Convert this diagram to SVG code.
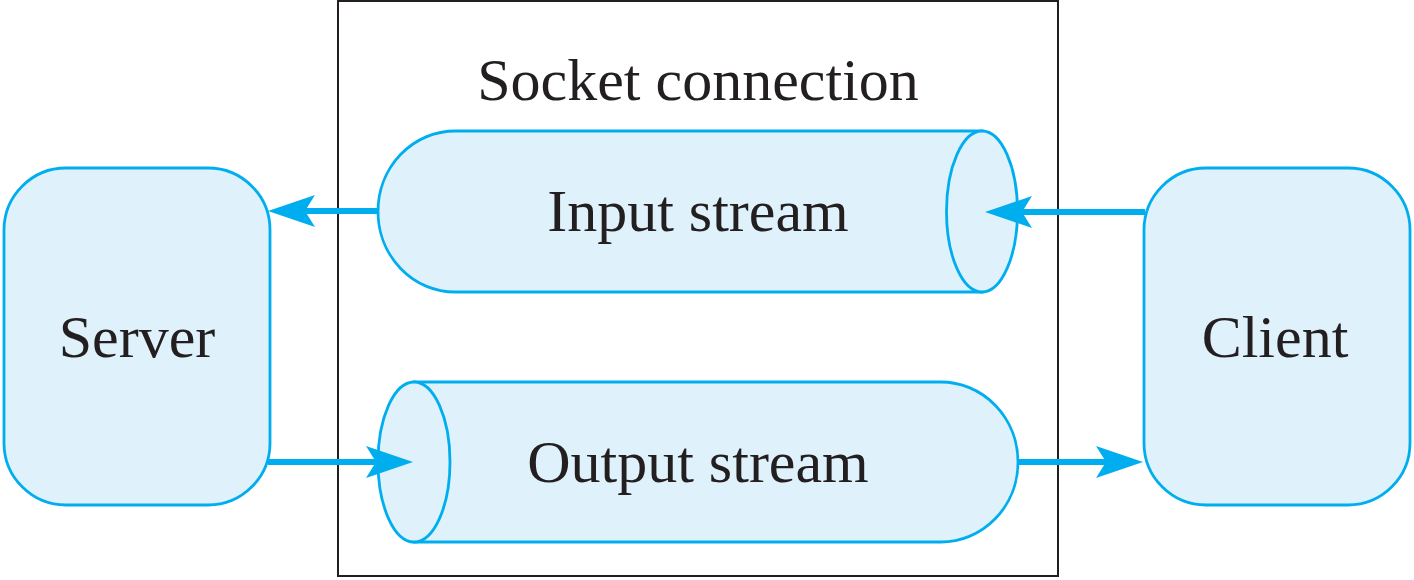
<svg xmlns="http://www.w3.org/2000/svg" width="1414" height="580" viewBox="0 0 1414 580">
<style>
.node{fill:#dff1fa;stroke:#00aeef;stroke-width:2.8}
.lbl{font-family:"Liberation Serif","Times New Roman",serif;font-size:60px;fill:#231f20;text-anchor:middle}
.conn{stroke:#00aeef;stroke-width:6;fill:none}
</style>
<defs>
<marker id="ah" markerUnits="userSpaceOnUse" markerWidth="48" markerHeight="34" viewBox="0 0 48 34" refX="10" refY="17" orient="auto">
<path d="M0,1 L47,17 L0,33 L10,17 Z" fill="#00aeef"/>
</marker>
</defs>
<rect width="1414" height="580" fill="#fff"/>
<g id="socket">
<rect x="338" y="1" width="720" height="575" fill="none" stroke="#231f20" stroke-width="2"/>
<text class="lbl" x="698" y="100">Socket connection</text>
</g>
<g id="server">
<rect class="node" x="4" y="168" width="266" height="337" rx="62" ry="62"/>
<text class="lbl" x="137" y="357">Server</text>
</g>
<g id="client">
<rect class="node" x="1144" y="168" width="266" height="337" rx="62" ry="62"/>
<text class="lbl" x="1275" y="357">Client</text>
</g>
<g id="input-stream">
<path class="node" d="M455,131 L982,131 L982,292 L455,292 A77,80.5 0 0 1 455,131 Z"/>
<ellipse class="node" cx="982" cy="211.5" rx="35.5" ry="80.5"/>
<text class="lbl" x="698" y="231">Input stream</text>
</g>
<g id="output-stream">
<path class="node" d="M414,382 L941,382 A77,80 0 0 1 941,542 L414,542 Z"/>
<ellipse class="node" cx="414" cy="462" rx="36" ry="80"/>
<text class="lbl" x="698" y="482">Output stream</text>
</g>
<g id="connectors">
<line class="conn" x1="378" y1="211" x2="305" y2="211" marker-end="url(#ah)"/>
<line class="conn" x1="1145" y1="212" x2="1022" y2="212" marker-end="url(#ah)"/>
<line class="conn" x1="268" y1="462" x2="376" y2="462" marker-end="url(#ah)"/>
<line class="conn" x1="1019" y1="462" x2="1106" y2="462" marker-end="url(#ah)"/>
</g>
</svg>
